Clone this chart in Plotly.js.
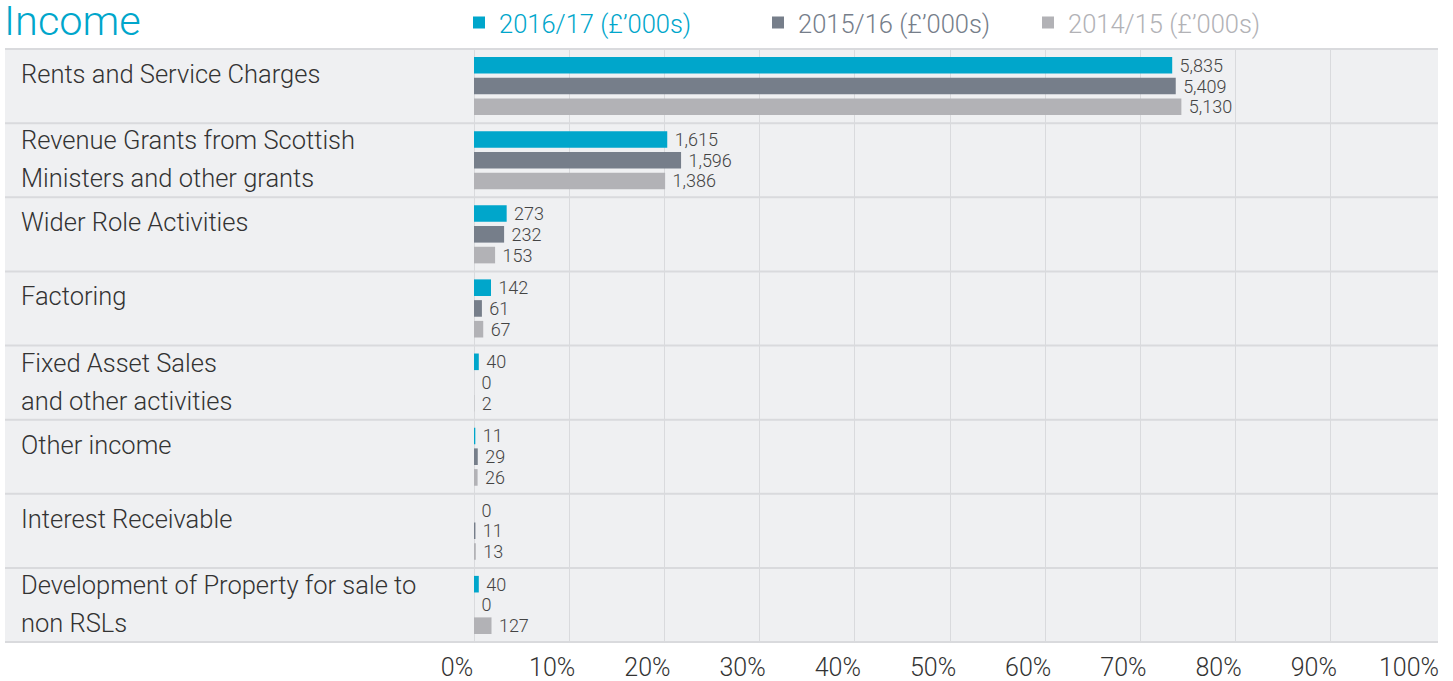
<!DOCTYPE html>
<html>
<head>
<meta charset="utf-8">
<script src="https://cdn.plot.ly/plotly-3.0.1.min.js"></script>
<style>html,body{margin:0;padding:0;background:#fff;}#chart{width:1453px;height:681px;}</style>
</head>
<body>
<div id="chart"></div>
<script>
const categories = [
  "Rents and Service Charges",
  "Revenue Grants from Scottish<br>Ministers and other grants",
  "Wider Role Activities",
  "Factoring",
  "Fixed Asset Sales<br>and other activities",
  "Other income",
  "Interest Receivable",
  "Development of Property for sale to<br>non RSLs"
];
const seriesNames = ["2016/17 (£’000s)", "2015/16 (£’000s)", "2014/15 (£’000s)"];
const values2017 = [5835, 1615, 273, 142, 40, 11, 0, 40];
const values2016 = [5409, 1596, 232, 61, 0, 29, 11, 0];
const values2015 = [5130, 1386, 153, 67, 2, 26, 13, 127];
const xTickValues = [0, 0.1, 0.2, 0.3, 0.4, 0.5, 0.6, 0.7, 0.8, 0.9, 1.0];

const colors = ["#00a6cb", "#767e8a", "#b2b2b6"];
const FONT = "Roboto, 'Liberation Sans', Arial, sans-serif";
const W = 1453, H = 681;
const M = {l: 474, r: 27, t: 48, b: 38};
const plotW = W - M.l - M.r, plotH = H - M.t - M.b;
const px2x = p => (p - M.l) / plotW;

const series = [values2017, values2016, values2015];
const traces = series.map((vals, i) => {
  const total = vals.reduce((a, b) => a + b, 0);
  return {
    type: "bar",
    orientation: "h",
    name: seriesNames[i],
    y: categories,
    x: vals.map(v => v / total),
    customdata: vals,
    texttemplate: "\u00a0%{customdata:,}",
    textposition: "outside",
    constraintext: "none",
    cliponaxis: false,
    textfont: {family: FONT, size: 18, color: "#444", weight: 300},
    marker: {color: colors[i]},
    hoverinfo: "skip",
    legend: i === 0 ? "legend" : "legend" + (i + 1)
  };
});

const shapes = [{
  type: "rect", layer: "below", xref: "paper", yref: "paper",
  x0: px2x(5), x1: px2x(1438), y0: 0, y1: 1,
  fillcolor: "#eff0f2", line: {width: 0}
}];
for (let i = 0; i <= categories.length; i++) {
  shapes.push({
    type: "line", layer: "above", xref: "paper", yref: "y",
    x0: px2x(5), x1: px2x(1438), y0: i - 0.5, y1: i - 0.5,
    line: {color: "#d9dadd", width: 2}
  });
}

const annotations = [];
categories.forEach((c, i) => {
  const lines = c.split("<br>");
  lines.forEach((t, j) => {
    const shift = lines.length === 1 ? 12 : (20 - 38 * j);
    annotations.push({
      xref: "paper", yref: "y", x: px2x(19), y: i,
      xanchor: "left", yanchor: "middle", yshift: shift,
      text: t, showarrow: false,
      font: {family: FONT, size: 25.5, color: "#333", weight: 300}
    });
  });
});

const legendBase = (xp, col) => ({
  x: xp / W, xref: "container", xanchor: "left",
  y: 1 - 23 / H, yref: "container", yanchor: "middle",
  orientation: "h", bgcolor: "rgba(0,0,0,0)",
  font: {family: FONT, size: 25.5, color: col, weight: 300}
});

const layout = {
  width: W, height: H,
  margin: M,
  paper_bgcolor: "#ffffff",
  plot_bgcolor: "rgba(0,0,0,0)",
  font: {family: FONT, color: "#333", weight: 300},
  title: {
    text: "Income", xref: "container", yref: "container",
    x: 4 / W, xanchor: "left", y: 1 - 20 / H, yanchor: "middle",
    font: {family: FONT, size: 41.5, color: "#00a6cb", weight: 300}
  },
  barmode: "group",
  bargap: 0.16,
  bargroupgap: 0.2,
  showlegend: true,
  legend: legendBase(459, colors[0]),
  legend2: legendBase(758, colors[1]),
  legend3: legendBase(1028, colors[2]),
  xaxis: {
    range: [0, 1], tickvals: xTickValues, tickformat: ".0%",
    showgrid: true, gridcolor: "#d9dadd", gridwidth: 1,
    zeroline: true, zerolinecolor: "#d9dadd", zerolinewidth: 1,
    showline: false, ticks: "", ticklabelstandoff: 7, ticklabelshift: -17,
    tickfont: {family: FONT, size: 25, color: "#333", weight: 300},
    fixedrange: true
  },
  yaxis: {
    type: "category", autorange: "reversed",
    showticklabels: false, showgrid: false, zeroline: false, ticks: "",
    fixedrange: true
  },
  shapes: shapes,
  annotations: annotations
};

Plotly.newPlot("chart", traces, layout, {displayModeBar: false, staticPlot: true});
</script>
</body>
</html>
